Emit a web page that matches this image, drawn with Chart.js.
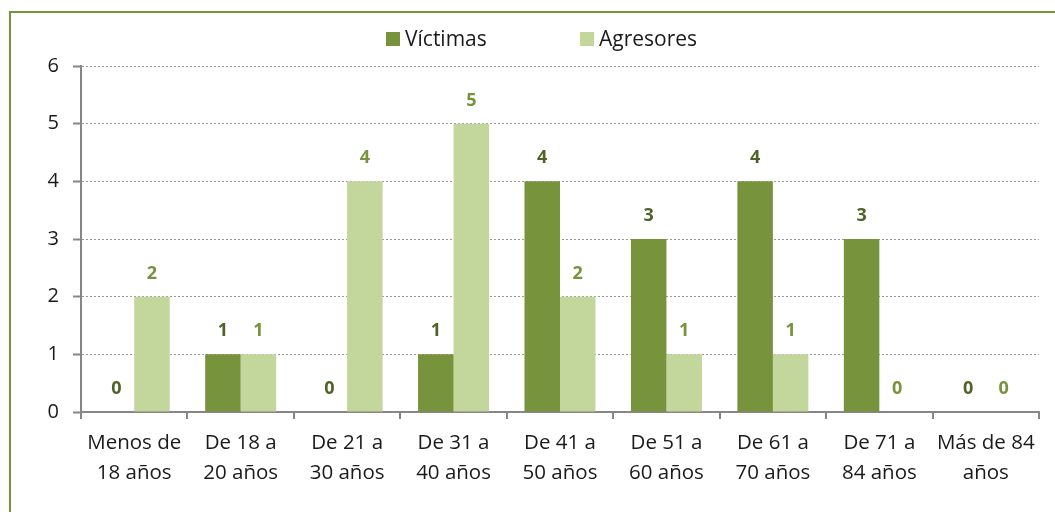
<!DOCTYPE html>
<html>
<head>
<meta charset="utf-8">
<script src="https://cdn.jsdelivr.net/npm/chart.js@4"></script>
<style>
  html, body { margin: 0; padding: 0; background: #ffffff; }
  #wrap { position: relative; width: 1055px; height: 512px; overflow: hidden; }
  #frame { position: absolute; left: 9px; top: 11px; width: 1200px; height: 700px;
           border-left: 2px solid #77933C; border-top: 2px solid #77933C; }
  canvas { position: absolute; left: 0; top: 0; }
</style>
</head>
<body>
<div id="wrap">
  <div id="frame"></div>
  <canvas id="c" width="1055" height="512"></canvas>
</div>
<script>
const categories = [
  ["Menos de", "18 años"],
  ["De 18 a", "20 años"],
  ["De 21 a", "30 años"],
  ["De 31 a", "40 años"],
  ["De 41 a", "50 años"],
  ["De 51 a", "60 años"],
  ["De 61 a", "70 años"],
  ["De 71 a", "84 años"],
  ["Más de 84", "años"]
];
const seriesNames = ["Víctimas", "Agresores"];
const victimas = [0, 1, 0, 1, 4, 3, 4, 3, 0];
const agresores = [2, 1, 4, 5, 2, 1, 1, 0, 0];
const yTicks = [0, 1, 2, 3, 4, 5, 6];

const barColors = ["#77933C", "#C3D69B"];
const labelColors = ["#4F6228", "#77933C"];
const FONT = "'Open Sans', 'Noto Sans', sans-serif";

const valueLabels = {
  id: "valueLabels",
  afterDatasetsDraw(chart) {
    const ctx = chart.ctx;
    ctx.save();
    ctx.font = "bold 18px " + FONT;
    ctx.textAlign = "center";
    ctx.textBaseline = "alphabetic";
    chart.data.datasets.forEach((ds, di) => {
      const meta = chart.getDatasetMeta(di);
      ctx.fillStyle = labelColors[di];
      meta.data.forEach((bar, i) => {
        ctx.fillText(String(ds.data[i]), bar.x, bar.y - 18);
      });
    });
    ctx.restore();
  }
};

const customLegend = {
  id: "customLegend",
  afterDraw(chart) {
    const ctx = chart.ctx;
    ctx.save();
    ctx.font = "21px " + FONT;
    ctx.textBaseline = "middle";
    ctx.textAlign = "left";
    const boxX = [386, 580];
    chart.data.datasets.forEach((ds, di) => {
      ctx.fillStyle = ds.backgroundColor;
      ctx.fillRect(boxX[di], 32, 14, 14);
      ctx.fillStyle = "#1a1a1a";
      ctx.fillText(ds.label, boxX[di] + 19, 40);
    });
    ctx.restore();
  }
};

new Chart(document.getElementById("c"), {
  type: "bar",
  data: {
    labels: categories,
    datasets: [
      { label: seriesNames[0], data: victimas, backgroundColor: barColors[0],
        categoryPercentage: 0.667, barPercentage: 1.0 },
      { label: seriesNames[1], data: agresores, backgroundColor: barColors[1],
        categoryPercentage: 0.667, barPercentage: 1.0 }
    ]
  },
  options: {
    responsive: false,
    animation: false,
    devicePixelRatio: 1,
    layout: { padding: { left: 0, right: 16, top: 66, bottom: 0 } },
    plugins: {
      legend: { display: false },
      tooltip: { enabled: false }
    },
    scales: {
      x: {
        afterFit(scale) { scale.height = 100; },
        grid: {
          display: true, drawOnChartArea: false, offset: true,
          tickLength: 7, color: "#868686", lineWidth: 2
        },
        border: { display: true, color: "#868686", width: 2 },
        ticks: {
          color: "#1a1a1a", padding: 9, maxRotation: 0, autoSkip: false,
          font: { family: FONT, size: 20.5, lineHeight: 1.47 }
        }
      },
      y: {
        min: 0, max: 6,
        afterFit(scale) { scale.width = 81; },
        afterBuildTicks(scale) { scale.ticks = yTicks.map(v => ({ value: v })); },
        grid: {
          color: "#9A9A9A", lineWidth: 1, tickLength: 8,
          tickColor: "#868686", tickWidth: 2, tickBorderDash: []
        },
        border: { display: true, color: "#868686", width: 2, dash: [2, 2] },
        ticks: {
          color: "#1a1a1a", padding: 14,
          font: { family: FONT, size: 20 }
        }
      }
    }
  },
  plugins: [valueLabels, customLegend]
});
</script>
</body>
</html>
